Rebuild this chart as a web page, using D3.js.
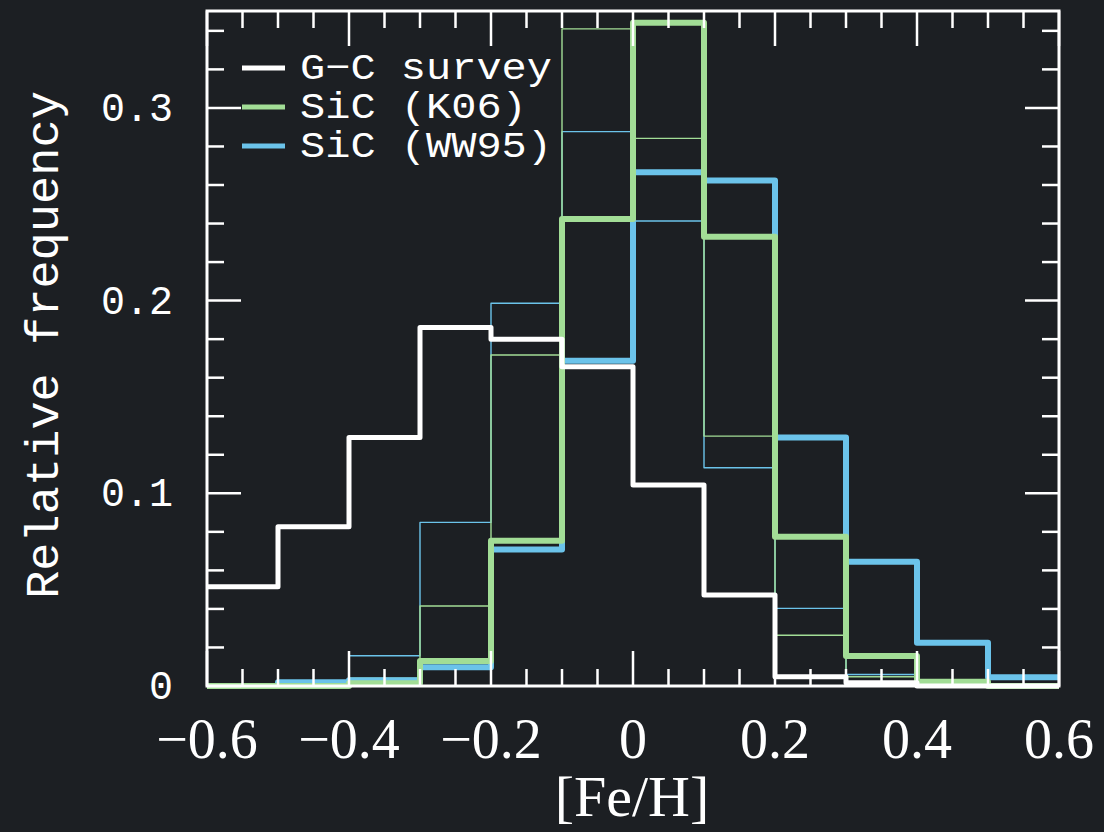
<!DOCTYPE html>
<html>
<head>
<meta charset="utf-8">
<script src="https://cdn.jsdelivr.net/npm/d3@7"></script>
<style>
  body { margin: 0; background: #1c1f23; }
  svg { display: block; }
</style>
</head>
<body>
<div id="chart"></div>
<script>
// bin left edges, [Fe/H]
const binStarts = [-0.6, -0.5, -0.4, -0.3, -0.2, -0.1, 0, 0.1, 0.2, 0.3, 0.4, 0.5];
const binWidth = 0.1;

const gcSurvey   = [0.0515, 0.0827, 0.129, 0.186, 0.180, 0.1657, 0.1043, 0.0472, 0.0048, 0.0017, 0, 0];
const sicK06     = [0, 0, 0.0014, 0.013, 0.0754, 0.2423, 0.3442, 0.2332, 0.0775, 0.0156, 0.0022, 0];
const sicWW95    = [0, 0.002, 0.003, 0.0097, 0.0709, 0.1688, 0.2666, 0.2624, 0.129, 0.0645, 0.0225, 0.0045];
const sicK06Thin = [0, 0, 0.004, 0.0415, 0.1718, 0.341, 0.2842, 0.1297, 0.0263, 0.0048, 0, 0];
const sicWW95Thin= [0, 0, 0.0157, 0.0849, 0.1986, 0.2877, 0.2413, 0.1133, 0.0403, 0.006, 0, 0];

const xTicks = [-0.6, -0.4, -0.2, 0, 0.2, 0.4, 0.6];
const yTicks = [0, 0.1, 0.2, 0.3];
const legendLabels = ["G\u2212C survey", "SiC (K06)", "SiC (WW95)"];

const width = 1104, height = 832;
const bg = "#1c1f23", white = "#ffffff", green = "#a2dd96", blue = "#6bc3ea";

const svg = d3.select("#chart").append("svg")
  .attr("width", width).attr("height", height);
svg.append("rect").attr("width", width).attr("height", height).attr("fill", bg);

const x = d3.scaleLinear().domain([-0.6, 0.6]).range([207, 1059]);
const y = d3.scaleLinear().domain([0, 0.3503]).range([686, 11]);

// step outline for a histogram
const stepLine = d3.line()
  .x(d => x(d[0]))
  .y(d => y(d[1]))
  .curve(d3.curveStepAfter);

function stepPoints(vals) {
  const pts = binStarts.map((b, i) => [b, vals[i]]);
  pts.push([binStarts[binStarts.length - 1] + binWidth, vals[vals.length - 1]]);
  return pts;
}

const series = [
  { vals: sicWW95Thin, color: blue, w: 1.4 },
  { vals: sicK06Thin, color: green, w: 1.4 },
  { vals: sicWW95, color: blue, w: 6 },
  { vals: sicK06, color: green, w: 6 },
  { vals: gcSurvey, color: white, w: 5 }
];

svg.selectAll("path.hist")
  .data(series)
  .enter()
  .append("path")
  .attr("class", "hist")
  .attr("d", d => stepLine(stepPoints(d.vals)))
  .attr("fill", "none")
  .attr("stroke", d => d.color)
  .attr("stroke-width", d => d.w)
  .attr("stroke-linejoin", "round");

// frame
const frame = svg.append("g").attr("stroke", white).attr("stroke-width", 3);
frame.append("rect")
  .attr("x", x(-0.6)).attr("y", y(0.3503))
  .attr("width", x(0.6) - x(-0.6)).attr("height", y(0) - y(0.3503))
  .attr("fill", "none");

// ticks (all pointing inward)
const xMinor = d3.range(-0.6, 0.6001, 0.05);
const yMinor = d3.range(0, 0.3501, 0.02);
const isMajorX = v => xTicks.some(t => Math.abs(t - v) < 1e-6);
const isMajorY = v => yTicks.some(t => Math.abs(t - v) < 1e-6);

xMinor.forEach(v => {
  const len = isMajorX(v) ? 35 : 17;
  frame.append("line").attr("x1", x(v)).attr("x2", x(v))
    .attr("y1", y(0)).attr("y2", y(0) - len).attr("stroke-width", 2.5);
  frame.append("line").attr("x1", x(v)).attr("x2", x(v))
    .attr("y1", y(0.3503)).attr("y2", y(0.3503) + len).attr("stroke-width", 2.5);
});
yMinor.forEach(v => {
  const len = isMajorY(v) ? 34 : 17;
  frame.append("line").attr("y1", y(v)).attr("y2", y(v))
    .attr("x1", x(-0.6)).attr("x2", x(-0.6) + len).attr("stroke-width", 2.5);
  frame.append("line").attr("y1", y(v)).attr("y2", y(v))
    .attr("x1", x(0.6)).attr("x2", x(0.6) - len).attr("stroke-width", 2.5);
});

// tick labels
svg.selectAll("text.xl")
  .data(xTicks)
  .enter()
  .append("text")
  .attr("class", "xl")
  .attr("x", d => x(d))
  .attr("y", 758)
  .attr("text-anchor", "middle")
  .attr("fill", white)
  .style("font-family", "'Liberation Serif', serif")
  .style("font-size", "56px")
  .text(d => d === 0 ? "0" : (d < 0 ? "\u2212" : "") + Math.abs(d).toFixed(1));

svg.selectAll("text.yl")
  .data(yTicks)
  .enter()
  .append("text")
  .attr("class", "yl")
  .attr("x", 173)
  .attr("y", d => y(d) + 13)
  .attr("text-anchor", "end")
  .attr("fill", white)
  .style("font-family", "'Liberation Mono', monospace")
  .style("font-size", "40px")
  .text(d => d === 0 ? "0" : d.toFixed(1));

// axis titles
svg.append("text")
  .attr("x", 632).attr("y", 816)
  .attr("text-anchor", "middle")
  .attr("fill", white)
  .style("font-family", "'Liberation Serif', serif")
  .style("font-size", "58px")
  .text("[Fe/H]");

svg.append("text")
  .attr("transform", "translate(58,345) rotate(-90)")
  .attr("text-anchor", "middle")
  .attr("fill", white)
  .style("font-family", "'Liberation Mono', monospace")
  .style("font-size", "47px")
  .text("Relative frequency");

// legend
const legendColors = [white, green, blue];
const legend = svg.append("g");
legendLabels.forEach((lab, i) => {
  const ly = 68 + i * 39;
  legend.append("line")
    .attr("x1", 242).attr("x2", 285)
    .attr("y1", ly).attr("y2", ly)
    .attr("stroke", legendColors[i]).attr("stroke-width", 5);
  legend.append("text")
    .attr("x", 300).attr("y", ly + 11)
    .attr("fill", white)
    .attr("textLength", lab.length * 25.2)
    .attr("lengthAdjust", "spacingAndGlyphs")
    .style("font-family", "'Liberation Mono', monospace")
    .style("font-size", "37px")
    .text(lab);
});
</script>
</body>
</html>
